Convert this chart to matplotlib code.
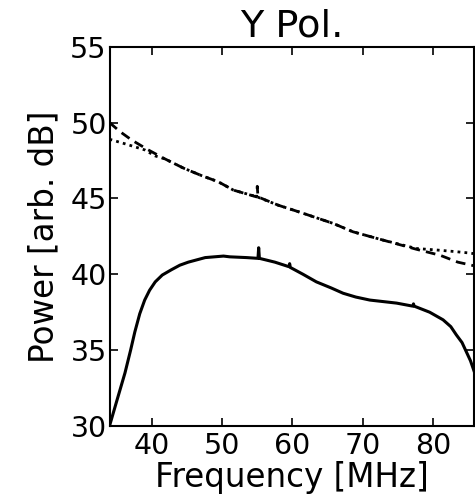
"""Y polarisation power spectrum: measured (solid) vs two model curves."""

import matplotlib

matplotlib.use("Agg")
import matplotlib.pyplot as plt

# measured spectrum (solid)
MEAS_F = [34.0, 35.0, 36.2, 37.0, 37.6, 38.3, 39.0, 39.7, 40.5, 41.5, 42.8,
          44.0, 45.2, 47.6, 50.2, 51.1, 53.5, 55.1, 55.2, 55.3, 57.5, 59.5,
          59.6, 59.7, 61.5, 63.4, 65.5, 67.2, 69.0, 71.0, 74.8, 77.1, 77.2,
          77.3, 79.5, 81.4, 82.5, 83.3, 84.1, 84.7, 85.3, 85.9]
MEAS_P = [30.0, 31.6, 33.5, 35.0, 36.2, 37.4, 38.3, 38.95, 39.5, 39.95, 40.3,
          40.6, 40.8, 41.1, 41.2, 41.15, 41.1, 41.05, 41.75, 41.05, 40.8, 40.5,
          40.7, 40.45, 40.0, 39.5, 39.1, 38.75, 38.5, 38.3, 38.1, 37.9, 38.05,
          37.9, 37.5, 37.0, 36.55, 36.0, 35.5, 34.9, 34.3, 33.5]

# model A (dashed)
MODA_F = [34.0, 35.5, 37.15, 39.5, 41.9, 44.5, 47.1, 49.45, 51.6, 54.9, 55.0,
          55.1, 58.0, 61.0, 65.8, 68.6, 72.9, 77.6, 81.0, 83.5, 85.9]
MODA_P = [50.0, 49.4, 48.85, 48.2, 47.6, 47.0, 46.5, 46.1, 45.55, 45.1, 45.8,
          45.1, 44.55, 44.1, 43.35, 42.8, 42.25, 41.65, 41.25, 40.8, 40.55]

# model B (dotted)
MODB_F = [34.0, 36.2, 39.0, 40.5, 41.9, 44.5, 47.1, 49.45, 51.6, 55.0, 58.0,
          61.0, 65.8, 68.6, 72.9, 77.6, 80.5, 83.0, 85.2, 85.9]
MODB_P = [48.9, 48.6, 48.2, 47.8, 47.6, 47.0, 46.5, 46.1, 45.55, 45.1, 44.55,
          44.1, 43.35, 42.8, 42.25, 41.7, 41.6, 41.5, 41.4, 41.35]

W, H = 475, 499

fig = plt.figure(figsize=(W / 100, H / 100), dpi=100)
ax = fig.add_axes([109.5 / W, 1 - 426 / H, (474 - 109.5) / W, (426 - 46.7) / H])

ax.plot(MODB_F, MODB_P, color="black", lw=2.0, ls=(0, (1, 1.5)))
ax.plot(MODA_F, MODA_P, color="black", lw=2.0, ls=(0, (3.5, 2.2)))
ax.plot(MEAS_F, MEAS_P, color="black", lw=2.2)

ax.set_xlim(34, 85.8)
ax.set_ylim(30, 55)
ax.set_xticks([40, 50, 60, 70, 80])
ax.set_yticks([30, 35, 40, 45, 50, 55])
ax.tick_params(direction="in", top=True, right=True, length=6, width=1.2,
               labelsize=20.5)
ax.tick_params(axis="x", pad=4)
ax.tick_params(axis="y", pad=2)
for sp in ax.spines.values():
    sp.set_linewidth(1.5)

ax.set_xlabel("Frequency [MHz]", fontsize=23.5, labelpad=1)
ax.set_ylabel("Power [arb. dB]", fontsize=23.5, labelpad=7)
ax.set_title("Y Pol.", fontsize=27.5, pad=7)

fig.savefig("out.png", dpi=100)
